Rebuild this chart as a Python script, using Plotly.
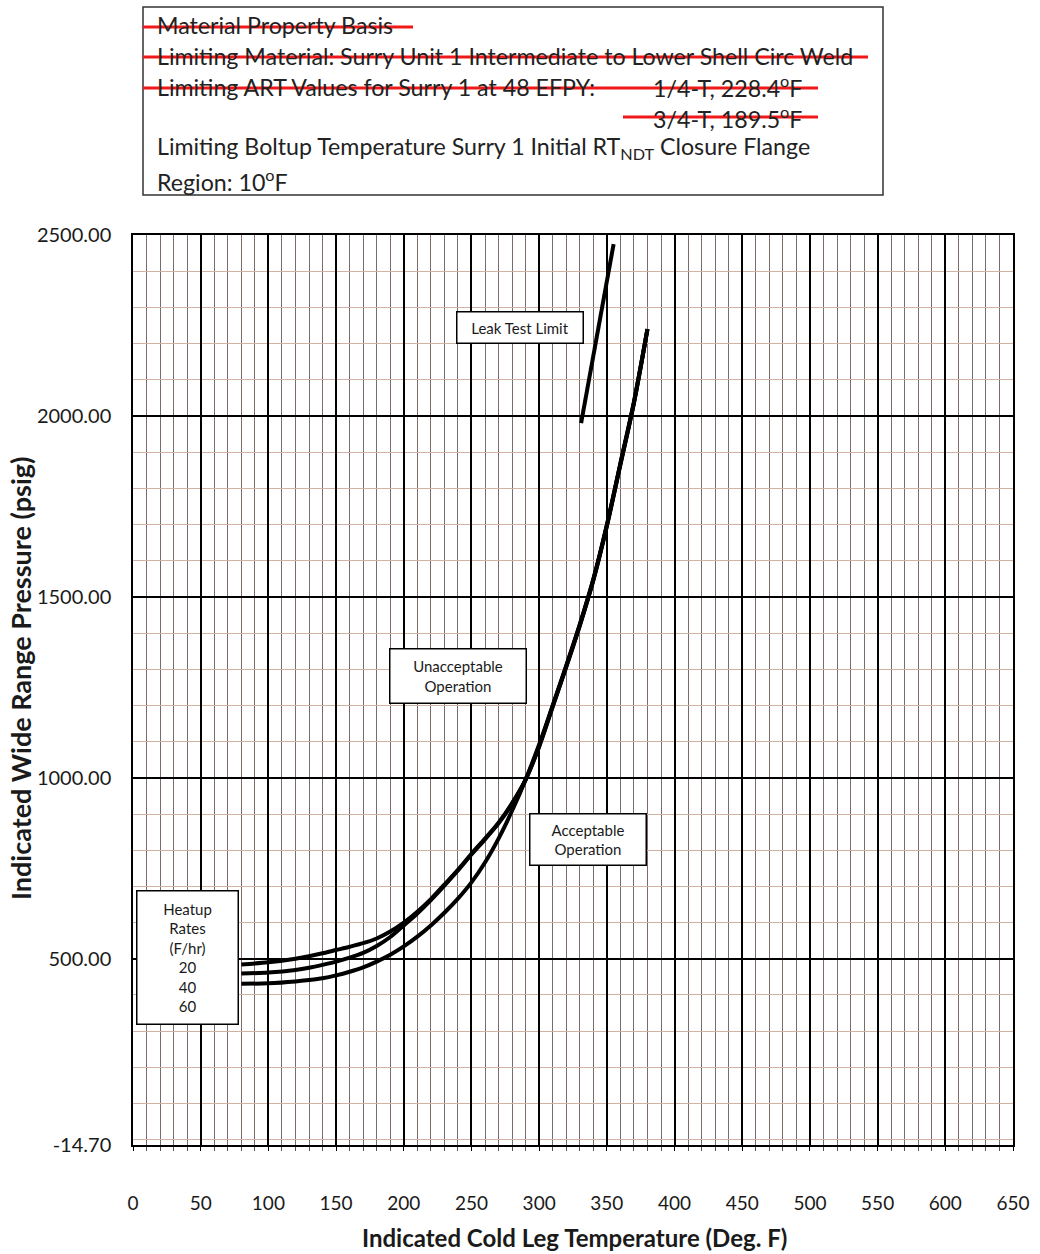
import plotly.graph_objects as go

# ---------------- data ----------------
temps_low = [80, 100, 120, 130, 140, 150, 160, 170, 180, 190, 200, 210, 220,
             230, 240, 250, 260, 270, 280, 290, 300, 310, 320, 330, 340, 350,
             360, 370, 380]
p_20 = [484, 490, 500, 507, 515, 524, 533, 543, 556, 575, 600, 630, 665,
        705, 746, 790, 832, 876, 930, 995, 1086, 1196, 1306, 1420, 1545, 1695,
        1865, 2035, 2240]
p_40 = [459, 462, 469, 475, 483, 492, 503, 516, 535, 560, 592, 625, 662,
        702, 744, 788, 830, 874, 928, 995, 1088, 1198, 1308, 1422, 1547, 1697,
        1867, 2037, 2240]
p_60 = [431, 432, 437, 441, 446, 454, 464, 476, 492, 511, 534, 561, 592,
        627, 666, 711, 766, 832, 909, 995, 1092, 1200, 1310, 1424, 1549, 1699,
        1869, 2039, 2240]
leak_t = [331, 355]
leak_p = [1980, 2475]

x_ticks = list(range(0, 651, 50))
x_minor = [v for v in range(0, 651, 10) if v % 50]
y_ticks = [-14.7, 500, 1000, 1500, 2000, 2500]
y_tick_text = ["-14.70", "500.00", "1000.00", "1500.00", "2000.00", "2500.00"]
y_minor = [v for v in range(0, 2501, 100) if v % 500 or v == 0]

# ---------------- layout geometry ----------------
W, H = 1040, 1254
PL, PR, PT, PB = 133, 1013, 235, 1145
FONT = "Lato"


def px(x):
    return (x - PL) / (PR - PL)


def py(y):
    return (PB - y) / (PB - PT)


fig = go.Figure()
for name, ys in [("20", p_20), ("40", p_40), ("60", p_60)]:
    fig.add_trace(go.Scatter(x=temps_low, y=ys, mode="lines", name=name,
                             line=dict(color="black", width=4, shape="spline",
                                       smoothing=0.8),
                             hoverinfo="x+y"))
fig.add_trace(go.Scatter(x=leak_t, y=leak_p, mode="lines", name="Leak Test",
                         line=dict(color="black", width=4)))

fig.update_layout(
    width=W, height=H,
    margin=dict(l=PL, r=W - PR, t=PT, b=H - PB, autoexpand=False),
    paper_bgcolor="white", plot_bgcolor="white",
    showlegend=False,
    font=dict(family=FONT, color="#1a1a1a"),
)

fig.update_xaxes(
    range=[0, 650], tickmode="array", tickvals=x_ticks,
    ticks="outside", ticklen=4, tickcolor="black", tickwidth=1,
    ticklabelstandoff=36,
    tickfont=dict(size=19, family=FONT, color="#1a1a1a"),
    showgrid=True, gridcolor="black", gridwidth=1.5,
    showline=True, linecolor="black", linewidth=1.5, mirror=True,
    zeroline=False,
    minor=dict(tickmode="array", tickvals=x_minor, showgrid=True,
               gridcolor="#7a6c68", gridwidth=1, ticks="outside", ticklen=4,
               tickcolor="#555"),
    automargin=False,
)
fig.update_yaxes(
    range=[-14.7, 2500], tickmode="array", tickvals=y_ticks,
    ticktext=y_tick_text, ticks="",
    ticklabelstandoff=16,
    tickfont=dict(size=20, family=FONT, color="#1a1a1a"),
    showgrid=True, gridcolor="black", gridwidth=1.5,
    showline=True, linecolor="black", linewidth=1.5, mirror=True,
    zeroline=False,
    minor=dict(tickmode="array", tickvals=y_minor, showgrid=True,
               gridcolor="#cfb2a4", gridwidth=1),
    automargin=False,
)

# axis titles as annotations for exact placement
fig.add_annotation(text="<b>Indicated Cold Leg Temperature (Deg. F)</b>",
                   xref="paper", yref="paper", x=px(574), y=py(1237),
                   xanchor="center", yanchor="middle", showarrow=False,
                   font=dict(size=24, family=FONT, color="#1a1a1a"))
fig.add_annotation(text="<b>Indicated Wide Range Pressure (psig)</b>",
                   xref="paper", yref="paper", x=px(20), y=py(678),
                   xanchor="center", yanchor="middle", showarrow=False,
                   textangle=-90,
                   font=dict(size=27, family=FONT, color="#1a1a1a"))


# ---------------- in-plot label boxes ----------------
def box_label(text, cx, cy, w, h, size=14):
    fig.add_annotation(
        text=text, xref="paper", yref="paper", x=px(cx), y=py(cy),
        xanchor="center", yanchor="middle", showarrow=False,
        width=w, height=h, align="center",
        bgcolor="white", bordercolor="black", borderwidth=1.5, borderpad=0,
        font=dict(size=size, family=FONT, color="#1a1a1a"),
    )


box_label("Leak Test Limit", 520, 327, 125, 30, size=15)
box_label("Unacceptable<br>Operation", 458, 676, 135, 53, size=15)
box_label("Acceptable<br>Operation", 588, 839, 115, 50, size=15)
box_label("Heatup<br>Rates<br>(F/hr)<br>20<br>40<br>60", 187, 957, 100, 132, size=15)

# ---------------- top info box ----------------
fig.add_shape(type="rect", xref="paper", yref="paper",
              x0=px(143), x1=px(883), y0=py(7), y1=py(195),
              line=dict(color="#333", width=1.5), fillcolor="white", layer="above")

info_lines = [
    ("Material Property Basis", 155, 25),
    ("Limiting Material: Surry Unit 1 Intermediate to Lower Shell Circ Weld", 155, 56),
    ("Limiting ART Values for Surry 1 at 48 EFPY:", 155, 87),
    ("1/4-T, 228.4<sup>o</sup>F", 651, 87),
    ("3/4-T, 189.5<sup>o</sup>F", 651, 117),
    ("Limiting Boltup Temperature Surry 1 Initial RT<sub>NDT</sub> Closure Flange", 155, 148),
    ("Region: 10<sup>o</sup>F", 155, 180),
]
for text, x0, yc in info_lines:
    fig.add_annotation(text=text, xref="paper", yref="paper", x=px(x0), y=py(yc),
                       xanchor="left", yanchor="middle", showarrow=False,
                       font=dict(size=23.2, family=FONT, color="#222"))

strikes = [(143, 413, 27), (143, 868, 57), (143, 818, 88), (623, 818, 117)]
for x0, x1, yy in strikes:
    fig.add_shape(type="line", xref="paper", yref="paper",
                  x0=px(x0), x1=px(x1), y0=py(yy), y1=py(yy),
                  line=dict(color="#f01818", width=3), layer="above")

fig.write_html("out.html")
